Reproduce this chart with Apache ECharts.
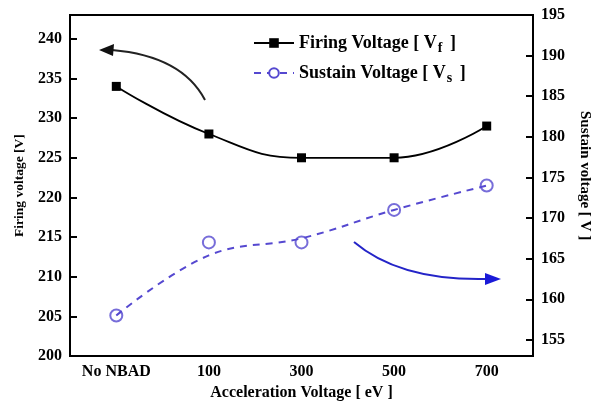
<!DOCTYPE html>
<html>
<head>
<meta charset="utf-8">
<script src="https://cdn.jsdelivr.net/npm/echarts@6/dist/echarts.min.js"></script>
<style>
  html, body { margin: 0; padding: 0; background: #fff; }
  #main { width: 602px; height: 406px; }
</style>
</head>
<body>
<div id="main"></div>
<script>
// categories on the x axis
var categories = ['No NBAD', '100', '300', '500', '700'];
// firing voltage (left axis)
var firingVoltage = [234, 228, 225, 225, 229];
// sustain voltage measured points (right axis)
var sustainVoltage = [158, 167, 167, 171, 174];
// dashed fitted curve for sustain voltage
var sustainFit = [158, 165.4, 167.5, 171, 174];

var serif = 'Liberation Serif';
var blue = '#5548d0';

var chart = echarts.init(document.getElementById('main'));

var option = {
    backgroundColor: '#fff',
    animation: false,
    grid: {
        left: 70, right: 69, top: 15, bottom: 48,
        show: true, borderColor: '#000', borderWidth: 2
    },
    legend: {
        data: ['Firing Voltage', 'Sustain Voltage'],
        orient: 'vertical',
        left: 253, top: 34,
        padding: 0,
        itemWidth: 40, itemHeight: 12, itemGap: 9,
        formatter: function (name) {
            if (name == 'Firing Voltage') return '{a|Firing Voltage [ V}{sub|f}{a| ]}';
            return '{a|Sustain Voltage [ V}{sub|s}{a| ]}';
        },
        textStyle: {
            fontFamily: serif, fontWeight: 'bold', fontSize: 18, color: '#000',
            rich: {
                a: { fontFamily: serif, fontWeight: 'bold', fontSize: 18, color: '#000' },
                sub: { fontFamily: serif, fontWeight: 'bold', fontSize: 14, color: '#000', padding: [10, 3, 0, 1] }
            }
        }
    },
    xAxis: {
        type: 'category',
        data: categories,
        name: 'Acceleration Voltage [ eV ]',
        nameLocation: 'middle',
        nameGap: 27,
        nameTextStyle: { fontFamily: serif, fontWeight: 'bold', fontSize: 16, color: '#000' },
        axisLine: { lineStyle: { color: '#000', width: 2 } },
        axisTick: { inside: true, alignWithLabel: true, length: 7, lineStyle: { width: 2 } },
        axisLabel: { fontFamily: serif, fontWeight: 'bold', fontSize: 16, color: '#000', margin: 8 },
        splitLine: { show: false }
    },
    yAxis: [{
        type: 'value',
        min: 200, max: 243,
        minInterval: 5, maxInterval: 5,
        name: 'Firing voltage [V]',
        nameLocation: 'middle',
        nameGap: 43,
        nameTextStyle: { fontFamily: serif, fontWeight: 'bold', fontSize: 13.5, color: '#000' },
        axisLine: { show: true, lineStyle: { color: '#000', width: 2 } },
        axisTick: { show: true, inside: true, length: 7, lineStyle: { width: 2 } },
        axisLabel: {
            fontFamily: serif, fontWeight: 'bold', fontSize: 16, color: '#000', margin: 8,
            formatter: function (v) { return v % 5 ? '' : v; }
        },
        splitLine: { show: false }
    }, {
        type: 'value',
        position: 'right',
        min: 153, max: 195,
        minInterval: 5, maxInterval: 5,
        name: 'Sustain voltage [ V ]',
        nameLocation: 'middle',
        nameRotate: -90,
        nameGap: 44,
        nameTextStyle: { fontFamily: serif, fontWeight: 'bold', fontSize: 15, color: '#000', padding: [0, 20, 0, 0] },
        axisLine: { show: true, lineStyle: { color: '#000', width: 2 } },
        axisTick: { show: true, inside: true, length: 7, lineStyle: { width: 2 } },
        axisLabel: {
            fontFamily: serif, fontWeight: 'bold', fontSize: 16, color: '#000', margin: 8,
            formatter: function (v) { return v % 5 ? '' : v; }
        },
        splitLine: { show: false }
    }],
    series: [{
        name: 'Firing Voltage',
        type: 'line',
        yAxisIndex: 0,
        data: firingVoltage,
        smooth: 0.45,
        symbol: 'rect',
        symbolSize: 9,
        itemStyle: { color: '#000' },
        lineStyle: { color: '#000', width: 1.8 }
    }, {
        name: 'Sustain Voltage',
        type: 'line',
        yAxisIndex: 1,
        data: sustainFit,
        smooth: 0.4,
        symbol: 'emptyCircle',
        showSymbol: false,
        itemStyle: { color: blue, borderWidth: 1.5 },
        lineStyle: { color: blue, width: 2, type: [7, 6] }
    }, {
        name: 'Sustain points',
        type: 'scatter',
        yAxisIndex: 1,
        data: sustainVoltage,
        symbol: 'emptyCircle',
        symbolSize: 12,
        itemStyle: { color: blue, borderWidth: 1.5 }
    }],
    // arrows pointing to the axis each series belongs to
    graphic: [{
        type: 'bezierCurve',
        shape: { x1: 205, y1: 100, cpx1: 182, cpy1: 56, x2: 112, y2: 50 },
        style: { stroke: '#222', lineWidth: 2, fill: null }
    }, {
        type: 'polygon',
        shape: { points: [[99, 50], [114, 44], [113, 56]] },
        style: { fill: '#111' }
    }, {
        type: 'bezierCurve',
        shape: { x1: 354, y1: 242, cpx1: 400, cpy1: 281, x2: 487, y2: 279 },
        style: { stroke: '#2424c8', lineWidth: 2, fill: null }
    }, {
        type: 'polygon',
        shape: { points: [[501, 279], [485, 273], [485, 285]] },
        style: { fill: '#1a1ad8' }
    }]
};

chart.setOption(option);
</script>
</body>
</html>
